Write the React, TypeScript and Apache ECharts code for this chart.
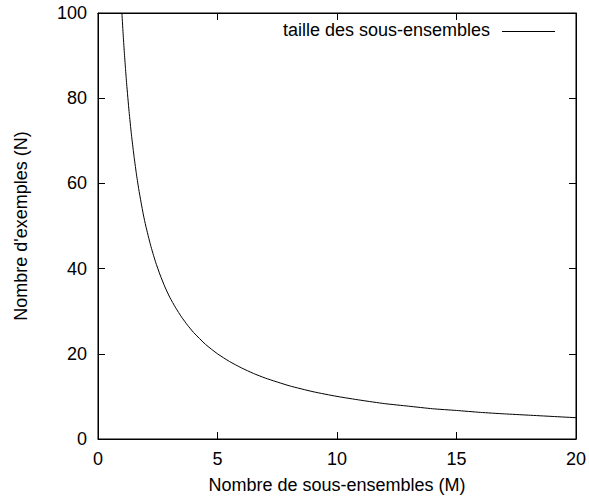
import React, { useEffect, useRef } from "react";
import * as echarts from "echarts";

const seriesName = "taille des sous-ensembles";
const xTicks = [0, 5, 10, 15, 20];
const yTicks = [0, 20, 40, 60, 80, 100];
const mValues = [1, 1.05, 1.1, 1.15, 1.2, 1.3, 1.4, 1.5, 1.6, 1.7, 1.8, 1.9, 2, 2.2, 2.4, 2.6, 2.8, 3, 3.25, 3.5, 3.75, 4, 4.5, 5, 5.5, 6, 6.5, 7, 8, 9, 10, 11, 12, 13, 14, 15, 16, 17, 18, 19, 20];
const nValues = [100, 95.2, 90.9, 87, 83.3, 76.9, 71.4, 66.7, 62.5, 58.8, 55.6, 52.6, 50, 45.5, 41.7, 38.5, 35.7, 33.3, 30.8, 28.6, 26.7, 25, 22.2, 20, 18.2, 16.7, 15.4, 14.3, 12.5, 11.1, 10, 9.1, 8.3, 7.7, 7.1, 6.7, 6.25, 5.9, 5.6, 5.3, 5];

const FONT = "'Liberation Sans', Arial, Helvetica, sans-serif";
const FS = 18;

export default function App() {
  const ref = useRef<HTMLDivElement>(null);
  useEffect(() => {
    if (!ref.current) return;
    const chart = echarts.init(ref.current, null, { renderer: "svg" });
    const axisCommon = {
      axisLine: { show: true, onZero: false, lineStyle: { color: "#000", width: 1 } },
      axisTick: { show: true, inside: true, length: 7, lineStyle: { color: "#000", width: 1 } },
      splitLine: { show: false },
    };
    chart.setOption({
      animation: false,
      backgroundColor: "#fff",
      textStyle: { fontFamily: FONT },
      grid: {
        left: 98,
        right: 13,
        top: 13,
        bottom: 60,
        containLabel: false,
        show: true,
        borderColor: "#000",
        borderWidth: 1,
        backgroundColor: "transparent",
      },
      xAxis: [
        {
          type: "value",
          min: 0,
          max: 20,
          interval: 5,
          position: "bottom",
          name: "Nombre de sous-ensembles (M)",
          nameLocation: "middle",
          nameGap: 37,
          nameTextStyle: { fontSize: FS, color: "#000", fontFamily: FONT },
          axisLabel: { fontSize: FS, color: "#000", margin: 11, fontFamily: FONT },
          ...axisCommon,
        },
        {
          type: "value",
          min: 0,
          max: 20,
          interval: 5,
          position: "top",
          axisLabel: { show: false },
          ...axisCommon,
        },
      ],
      yAxis: [
        {
          type: "value",
          min: 0,
          max: 100,
          interval: 20,
          position: "left",
          name: "Nombre d'exemples (N)",
          nameLocation: "middle",
          nameGap: 68,
          nameRotate: 90,
          nameTextStyle: { fontSize: FS, color: "#000", fontFamily: FONT },
          axisLabel: { fontSize: FS, color: "#000", margin: 11, fontFamily: FONT },
          ...axisCommon,
        },
        {
          type: "value",
          min: 0,
          max: 100,
          interval: 20,
          position: "right",
          axisLabel: { show: false },
          ...axisCommon,
        },
      ],
      graphic: [
        {
          type: "text",
          right: 99,
          top: 21,
          style: { text: seriesName, fontSize: FS, fill: "#000", fontFamily: FONT },
        },
        {
          type: "line",
          shape: { x1: 502, y1: 31.5, x2: 555, y2: 31.5 },
          style: { stroke: "#000", lineWidth: 1 },
        },
      ],
      series: [
        {
          name: seriesName,
          type: "line",
          data: mValues.map((m, i) => [m, nValues[i]]),
          symbol: "none",
          smooth: 0.2,
          lineStyle: { color: "#000", width: 1 },
          clip: true,
        },
      ],
    });
    void xTicks;
    void yTicks;
    return () => chart.dispose();
  }, []);
  return <div ref={ref} style={{ position: "fixed", left: 0, top: 0, width: 589, height: 499 }} />;
}
